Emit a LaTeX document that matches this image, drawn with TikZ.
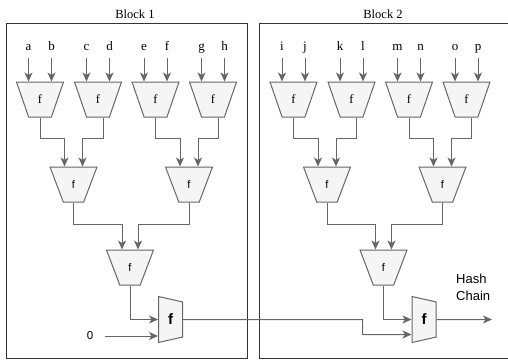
\documentclass[tikz,border=0pt]{standalone}
\usepackage{fontspec}
\setmainfont{Liberation Serif}
\setsansfont{Liberation Sans}
\usepackage{tikz}
\usetikzlibrary{arrows.meta,shapes.geometric,positioning}
\definecolor{edgegray}{HTML}{666666}
\definecolor{fngray}{HTML}{F5F5F5}
\definecolor{boxgray}{HTML}{333333}

\begin{document}
\begin{tikzpicture}[x=1pt,y=-1pt,
    fn/.style={trapezium, shape border rotate=180, trapezium angle=76, trapezium stretches=true,
      minimum width=47pt, minimum height=35pt, inner sep=0pt, draw=edgegray, fill=fngray, line width=1pt},
    fntop/.style={fn, font=\fontsize{12.5}{12.5}\selectfont},
    fnlow/.style={fn, font=\sffamily\fontsize{11}{11}\selectfont},
    fnfin/.style={trapezium, shape border rotate=270, trapezium angle=71.5, trapezium stretches=true,
      minimum width=46pt, minimum height=24pt, inner sep=0pt, draw=edgegray, fill=fngray, line width=1pt,
      font=\sffamily\bfseries\fontsize{15}{15}\selectfont},
    inp/.style={inner sep=1pt, text height=8pt, text depth=2pt, font=\fontsize{13}{13}\selectfont},
    blk/.style={inner sep=1pt, font=\fontsize{12.5}{12.5}\selectfont},
    arr/.style={draw=edgegray, line width=1pt, -{Stealth[length=9pt,width=8pt,inset=2.5pt]}}]
            \useasboundingbox (0,0) rectangle (508,361);
            \draw[boxgray, line width=1pt] (6,24) rectangle (247,358);
            \draw[boxgray, line width=1pt] (510,24) -- (259,24) -- (259,358) -- (510,358);
            \draw (135,14) node[blk]                  (b1) {Block 1};
            \draw (383,14) node[blk]                  (b2) {Block 2};

            \draw (28.5,47) node[inp]                 (a) {a};
            \draw (51.5,47) node[inp]                 (b) {b};
            \draw (86.5,47) node[inp]                 (c) {c};
            \draw (109.5,47) node[inp]                (d) {d};
            \draw (144,47) node[inp]                  (e) {e};
            \draw (167,47) node[inp]                  (f) {f};
            \draw (201.5,47) node[inp]                (g) {g};
            \draw (224.5,47) node[inp]                (h) {h};
            \draw (40,99.5) node[fntop]               (t1) {f};
            \draw (98,99.5) node[fntop]               (t2) {f};
            \draw (155.5,99.5) node[fntop]            (t3) {f};
            \draw (213,99.5) node[fntop]              (t4) {f};
            \draw (73.5,184.5) node[fnlow]            (l1) {f};
            \draw (189,184.5) node[fnlow]             (l2) {f};
            \draw (130,267.5) node[fnlow]             (m1) {f};
            \draw (170.5,319.5) node[fnfin]           (h1) {f};
            \draw (90,336) node[inp, font=\sffamily\fontsize{11.5}{11.5}\selectfont] (z) {0};

            \draw (282,47) node[inp]                  (i) {i};
            \draw (305,47) node[inp]                  (j) {j};
            \draw (340,47) node[inp]                  (k) {k};
            \draw (363,47) node[inp]                  (l) {l};
            \draw (397.5,47) node[inp]                (m) {m};
            \draw (420.5,47) node[inp]                (n) {n};
            \draw (455,47) node[inp]                  (o) {o};
            \draw (478,47) node[inp]                  (p) {p};
            \draw (293.5,99.5) node[fntop]            (t5) {f};
            \draw (351.5,99.5) node[fntop]            (t6) {f};
            \draw (409,99.5) node[fntop]              (t7) {f};
            \draw (466.5,99.5) node[fntop]            (t8) {f};
            \draw (327,184.5) node[fnlow]             (l3) {f};
            \draw (442.5,184.5) node[fnlow]           (l4) {f};
            \draw (383.5,267.5) node[fnlow]           (m2) {f};
            \draw (424,319.5) node[fnfin]             (h2) {f};
            \draw (456,287.5) node[anchor=west, align=left, inner sep=0pt,
              font=\sffamily\fontsize{13}{16.5}\selectfont] (hash) {Hash\\Chain};
            \coordinate (hc) at (492,319.5);

            \draw[arr, shorten <=5pt] (a.south) -- (a.south |- t1.north);
            \draw[arr, shorten <=5pt] (b.south) -- (b.south |- t1.north);
            \draw[arr, shorten <=5pt] (c.south) -- (c.south |- t2.north);
            \draw[arr, shorten <=5pt] (d.south) -- (d.south |- t2.north);
            \draw[arr, shorten <=5pt] (e.south) -- (e.south |- t3.north);
            \draw[arr, shorten <=5pt] (f.south) -- (f.south |- t3.north);
            \draw[arr, shorten <=5pt] (g.south) -- (g.south |- t4.north);
            \draw[arr, shorten <=5pt] (h.south) -- (h.south |- t4.north);
            \draw[arr] (t1.south) -- ++(0,21) -| ([xshift=-9pt]l1.north);
            \draw[arr] ([xshift=5pt]t2.south) -- ++(0,21) -| ([xshift=9pt]l1.north);
            \draw[arr] (t3.south) -- ++(0,21) -| ([xshift=-9pt]l2.north);
            \draw[arr] ([xshift=5pt]t4.south) -- ++(0,21) -| ([xshift=9pt]l2.north);
            \draw[arr] (l1.south) -- ++(0,22) -| ([xshift=-8pt]m1.north);
            \draw[arr] (l2.south) -- ++(0,22) -| ([xshift=8pt]m1.north);
            \draw[arr] (m1.south) |- (h1.west);
            \draw[arr, shorten <=11pt] (z.east) -- (z.east -| h1.west);

            \draw[arr, shorten <=5pt] (i.south) -- (i.south |- t5.north);
            \draw[arr, shorten <=5pt] (j.south) -- (j.south |- t5.north);
            \draw[arr, shorten <=5pt] (k.south) -- (k.south |- t6.north);
            \draw[arr, shorten <=5pt] (l.south) -- (l.south |- t6.north);
            \draw[arr, shorten <=5pt] (m.south) -- (m.south |- t7.north);
            \draw[arr, shorten <=5pt] (n.south) -- (n.south |- t7.north);
            \draw[arr, shorten <=5pt] (o.south) -- (o.south |- t8.north);
            \draw[arr, shorten <=5pt] (p.south) -- (p.south |- t8.north);
            \draw[arr] (t5.south) -- ++(0,21) -| ([xshift=-9pt]l3.north);
            \draw[arr] ([xshift=5pt]t6.south) -- ++(0,21) -| ([xshift=9pt]l3.north);
            \draw[arr] (t7.south) -- ++(0,21) -| ([xshift=-9pt]l4.north);
            \draw[arr] ([xshift=5pt]t8.south) -- ++(0,21) -| ([xshift=9pt]l4.north);
            \draw[arr] (l3.south) -- ++(0,22) -| ([xshift=-8pt]m2.north);
            \draw[arr] (l4.south) -- ++(0,22) -| ([xshift=8pt]m2.north);
            \draw[arr] (m2.south) |- (h2.west);
            \draw[arr] (h1.east) -- ([xshift=-49pt]h2.west) |- ([yshift=-15pt]h2.west);
            \draw[arr] (h2.east) -- (hc);

            \end{tikzpicture}
\end{document}
